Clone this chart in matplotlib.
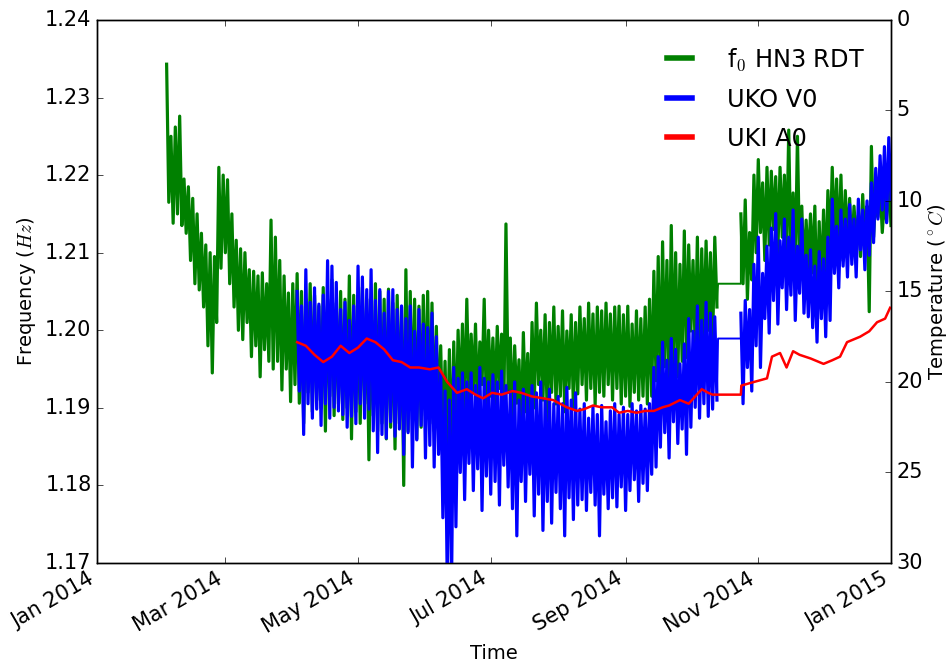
import numpy as np
import matplotlib
matplotlib.use("Agg")
import matplotlib.pyplot as plt
import matplotlib.dates as mdates

plt.style.use("classic")
plt.rcParams["figure.facecolor"] = "white"
plt.rcParams["savefig.facecolor"] = "white"

# Series, one (high, low) pair per 2-day block.
# Days are counted from 1 Jan 2014.
green_start_a, green_start_b = 32, 296
gap_start, gap_end = 285.5, 296

green_hi_a = [1.2343, 1.2250, 1.2262, 1.2276, 1.2195,
              1.2185, 1.2170, 1.2150, 1.2125, 1.2110,
              1.2100, 1.2095, 1.2210, 1.2200, 1.2194,
              1.2150, 1.2116, 1.2105, 1.2100, 1.2078,
              1.2076, 1.2070, 1.2074, 1.2060, 1.2142,
              1.2120, 1.2090, 1.2070, 1.2048, 1.2060,
              1.2073, 1.2050, 1.2040, 1.2060, 1.2045,
              1.2031, 1.2055, 1.2040, 1.2065, 1.2035,
              1.2050, 1.2040, 1.2070, 1.2045, 1.2030,
              1.2055, 1.2040, 1.2035, 1.2060, 1.2050,
              1.2040, 1.2053, 1.2035, 1.2045, 1.2030,
              1.2078, 1.2050, 1.2040, 1.2031, 1.2045,
              1.2050, 1.2035, 1.2005, 1.1980, 1.1960,
              1.1975, 1.1985, 1.2000, 1.2008, 1.2040,
              1.1995, 1.2008, 1.1985, 1.2040, 1.2000,
              1.1990, 1.2005, 1.1995, 1.2137, 1.1990,
              1.1980, 1.1962, 1.1997, 1.1970, 1.2010,
              1.2035, 1.2000, 1.2020, 1.2010, 1.2030,
              1.2005, 1.2025, 1.1999, 1.2020, 1.2010,
              1.2030, 1.2015, 1.2035, 1.2021, 1.2030,
              1.2025, 1.2035, 1.2021, 1.2030, 1.2031,
              1.2020, 1.2031, 1.2008, 1.2025, 1.2015,
              1.2030, 1.2040, 1.2076, 1.2095, 1.2114,
              1.2090, 1.2135, 1.2100, 1.2085, 1.2128,
              1.2110, 1.2090, 1.2120, 1.2105, 1.2115,
              1.2100, 1.2120]
green_lo_a = [1.2165, 1.2138, 1.2150, 1.2135, 1.2125,
              1.2090, 1.2060, 1.2052, 1.2030, 1.1980,
              1.1945, 1.2010, 1.2080, 1.2100, 1.2060,
              1.2030, 1.2000, 1.1988, 1.2010, 1.1966,
              1.1980, 1.1940, 1.1975, 1.1960, 1.1950,
              1.1960, 1.1923, 1.1950, 1.1908, 1.1930,
              1.1906, 1.1880, 1.1920, 1.1895, 1.1910,
              1.1900, 1.1870, 1.1915, 1.1890, 1.1905,
              1.1885, 1.1900, 1.1860, 1.1895, 1.1880,
              1.1905, 1.1833, 1.1890, 1.1870, 1.1880,
              1.1860, 1.1875, 1.1847, 1.1880, 1.1800,
              1.1870, 1.1885, 1.1860, 1.1875, 1.1890,
              1.1880, 1.1870, 1.1880, 1.1850, 1.1830,
              1.1816, 1.1855, 1.1900, 1.1895, 1.1910,
              1.1920, 1.1892, 1.1930, 1.1900, 1.1915,
              1.1905, 1.1925, 1.1892, 1.1920, 1.1880,
              1.1906, 1.1860, 1.1895, 1.1875, 1.1900,
              1.1930, 1.1910, 1.1883, 1.1920, 1.1905,
              1.1915, 1.1895, 1.1925, 1.1900, 1.1918,
              1.1930, 1.1910, 1.1925, 1.1904, 1.1920,
              1.1915, 1.1930, 1.1910, 1.1925, 1.1905,
              1.1915, 1.1902, 1.1920, 1.1910, 1.1915,
              1.1905, 1.1915, 1.1935, 1.1920, 1.1953,
              1.1925, 1.1950, 1.1940, 1.1960, 1.1965,
              1.1999, 1.1975, 1.1960, 1.1990, 1.2000,
              1.1985, 1.2030]
green_hi_b = [1.2150, 1.2168, 1.2126, 1.2200, 1.2220,
              1.2190, 1.2210, 1.2205, 1.2198, 1.2210,
              1.2200, 1.2258, 1.2177, 1.2250, 1.2160,
              1.2142, 1.2150, 1.2160, 1.2140, 1.2155,
              1.2180, 1.2210, 1.2195, 1.2200, 1.2180,
              1.2170, 1.2160, 1.2148, 1.2175, 1.2160,
              1.2237, 1.2175, 1.2190, 1.2170, 1.2200]
green_lo_b = [1.2060, 1.2040, 1.2065, 1.2100, 1.2126,
              1.2090, 1.2110, 1.2130, 1.2100, 1.2120,
              1.2100, 1.2082, 1.2075, 1.2090, 1.2069,
              1.2080, 1.2074, 1.2022, 1.2050, 1.2060,
              1.2100, 1.2116, 1.2095, 1.2090, 1.2110,
              1.2100, 1.2116, 1.2095, 1.2105, 1.2024,
              1.2120, 1.2146, 1.2126, 1.2140, 1.2135]
green_gap = 1.206

# UKO V0 temperature (deg C); right axis is inverted
blue_start_a, blue_start_b = 92, 296
blue_top_a = [15.0, 15.8, 13.8, 15.6, 14.8,
              15.7, 15.2, 13.3, 13.6, 14.5,
              16.0, 15.6, 16.6, 15.8, 13.6,
              14.2, 14.9, 13.8, 15.5, 14.9,
              16.2, 15.0, 14.9, 16.0, 15.8,
              16.5, 15.8, 17.2, 16.0, 16.8,
              17.0, 16.2, 17.5, 19.5, 20.5,
              21.0, 19.2, 19.8, 19.5, 20.0,
              19.5, 20.2, 19.2, 19.8, 20.0,
              19.6, 20.0, 19.4, 20.2, 20.5,
              20.0, 21.0, 20.4, 20.8, 20.2,
              20.6, 20.0, 21.0, 20.4, 21.2,
              20.8, 21.2, 20.3, 21.0, 20.6,
              21.5, 21.2, 22.0, 21.4, 21.8,
              21.3, 22.2, 21.6, 21.2, 21.8,
              21.4, 21.8, 21.2, 21.6, 21.3,
              21.5, 21.2, 19.2, 18.6, 17.8,
              18.8, 17.6, 18.2, 19.0, 17.9,
              16.5, 17.2, 15.8, 16.6, 15.6,
              16.2, 16.4]
blue_bot_a = [20.5, 22.9, 21.2, 22.0, 21.5,
              22.4, 21.2, 22.0, 21.4, 21.6,
              21.8, 22.5, 21.9, 22.3, 21.2,
              22.0, 21.5, 22.7, 23.9, 22.9,
              23.1, 22.2, 23.0, 22.6, 24.0,
              22.8, 24.7, 23.2, 22.4, 24.2,
              23.5, 24.7, 24.0, 27.5, 31.0,
              31.0, 28.0, 25.0, 26.5, 24.5,
              26.0, 24.8, 27.1, 25.2, 26.2,
              25.5, 26.8, 24.6, 25.8, 27.0,
              28.5, 25.5, 26.6, 25.1, 27.4,
              26.2, 28.2, 26.6, 27.8, 26.1,
              27.0, 28.5, 26.4, 27.6, 26.8,
              26.5, 27.1, 26.1, 26.8, 28.5,
              26.2, 27.0, 26.4, 26.9, 25.8,
              27.1, 26.0, 25.4, 26.6, 25.6,
              26.0, 25.1, 24.7, 23.6, 22.8,
              24.2, 22.2, 23.4, 22.6, 24.0,
              22.5, 21.4, 22.0, 21.2, 21.9,
              21.5, 21.0]
blue_top_b = [16.2, 15.5, 16.0, 13.5, 12.0,
              14.0, 12.5, 11.5, 10.7, 12.2,
              11.0, 12.0, 10.5, 12.5, 11.0,
              13.0, 12.7, 13.6, 12.8, 13.2,
              12.0, 9.9, 11.4, 10.5, 11.0,
              10.2, 11.0, 9.9, 10.5, 10.0,
              9.0, 8.2, 7.5, 7.0, 6.5]
blue_bot_b = [21.2, 19.2, 20.5, 18.0, 19.2,
              16.5, 17.3, 15.5, 16.8, 14.8,
              16.0, 15.2, 16.6, 15.1, 16.2,
              16.4, 17.0, 17.8, 16.5, 17.5,
              16.6, 14.0, 14.8, 13.6, 14.2,
              13.5, 14.2, 12.7, 13.8, 13.0,
              12.3, 11.0, 10.5, 11.2, 9.9]
blue_gap = 17.6

# UKI A0 temperature (deg C)
red_days = [92, 96, 100, 104, 108, 112, 116, 120, 124, 128, 132, 136, 140,
            144, 148, 153, 157, 161, 165.5, 170, 174, 177.5, 181.6, 186, 191,
            195, 200, 205, 209.7, 216, 220.7, 224, 228, 232, 236.8, 240, 244,
            248, 252, 256, 260, 263, 268, 272, 275, 278, 281, 283,
            296, 296.2, 302, 308, 310.3, 314, 317, 320, 323, 328, 334, 338,
            341.6, 344.8, 350.8, 355, 358.6, 362.3, 364.6]
red_temp = [17.8, 18.0, 18.5, 18.9, 18.6, 18.0, 18.4, 18.1, 17.6, 17.8, 18.2,
            18.8, 18.9, 19.2, 19.2, 19.3, 19.2, 20.0, 20.6, 20.4, 20.7, 20.9,
            20.6, 20.7, 20.5, 20.6, 20.8, 20.9, 21.0, 21.4, 21.6, 21.5, 21.3,
            21.4, 21.4, 21.7, 21.6, 21.7, 21.6, 21.6, 21.4, 21.3, 21.0, 21.2,
            20.8, 20.4, 20.6, 20.7,
            20.7, 20.2, 20.0, 19.8, 18.6, 18.4, 19.2, 18.3, 18.5, 18.7, 19.0,
            18.8, 18.6, 17.8, 17.5, 17.2, 16.7, 16.5, 15.9]

labels = ["f$_0$ HN3 RDT", "UKO V0", "UKI A0"]


def zigzag(start, first, second):
    # each block: first value on day d, second value on day d+1
    days, vals = [], []
    for k, (a, b) in enumerate(zip(first, second)):
        days += [start + 2 * k, start + 2 * k + 1]
        vals += [a, b]
    return np.array(days, dtype=float), np.array(vals)


t0 = mdates.date2num(np.datetime64("2014-01-01"))


def plot_split(ax, seg_a, gap_val, seg_b, color):
    # dense parts thick, the no-data bridge thin
    line, = ax.plot(t0 + seg_a[0], seg_a[1], color=color, lw=2.3)
    ax.plot(t0 + np.array([seg_a[0][-1], gap_start, gap_end, seg_b[0][0]]),
            [seg_a[1][-1], gap_val, gap_val, seg_b[1][0]], color=color, lw=1.4)
    ax.plot(t0 + seg_b[0], seg_b[1], color=color, lw=2.3)
    return line


fig = plt.figure(figsize=(9.52, 6.66), dpi=100)
ax1 = fig.add_axes([0.1019, 0.1547, 0.834, 0.8153])
ax2 = ax1.twinx()

l1 = plot_split(ax1, zigzag(green_start_a, green_hi_a, green_lo_a), green_gap,
                zigzag(green_start_b, green_hi_b, green_lo_b), "g")
l2 = plot_split(ax2, zigzag(blue_start_a, blue_top_a, blue_bot_a), blue_gap,
                zigzag(blue_start_b, blue_top_b, blue_bot_b), "b")
l3, = ax2.plot(t0 + np.array(red_days), red_temp, color="r", lw=1.8)

ax1.set_ylim(1.17, 1.24)
ax1.set_yticks(np.arange(1.17, 1.2401, 0.01))
ax1.yaxis.set_major_formatter(matplotlib.ticker.FormatStrFormatter("%.2f"))
ax2.set_ylim(30, 0)
ax2.set_yticks(range(0, 31, 5))

ax1.set_xlim(t0, mdates.date2num(np.datetime64("2015-01-01")))
ax1.xaxis.set_major_locator(mdates.MonthLocator(bymonth=[1, 3, 5, 7, 9, 11]))
ax1.xaxis.set_major_formatter(mdates.DateFormatter("%b %Y"))
ax1.tick_params(axis="y", which="both", right=False, labelsize=15)
ax1.tick_params(axis="x", labelsize=15, top=True)
ax2.tick_params(axis="y", labelsize=15, left=False)
for lab in ax1.get_xticklabels():
    lab.set_rotation(30)
    lab.set_ha("right")

ax1.set_xlabel("Time", fontsize=14)
ax1.set_ylabel("Frequency ($Hz$)", fontsize=14)
ax2.set_ylabel("Temperature ($^\\circ C$)", fontsize=14, labelpad=2)

leg = ax2.legend([l1, l2, l3], labels, loc="upper right", frameon=False,
                 prop={"size": 17.3}, handlelength=1.65, handletextpad=1.15,
                 labelspacing=0.62, borderaxespad=0.7)
for h in leg.get_lines():
    h.set_linewidth(4)

fig.savefig("out.png", dpi=100)
